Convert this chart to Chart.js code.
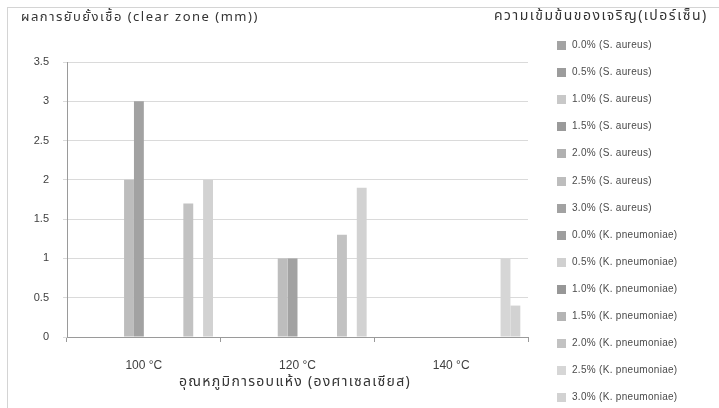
<!DOCTYPE html>
<html>
<head>
<meta charset="utf-8">
<script src="https://cdn.jsdelivr.net/npm/chart.js@4"></script>
<style>
  html, body { margin: 0; padding: 0; background: #fff; }
  #wrap { position: relative; width: 719px; height: 408px; overflow: hidden; font-family: "Liberation Sans", sans-serif; }
  #frame { position: absolute; left: 7px; top: 7px; width: 720px; height: 410px; border-left: 1px solid #d4d4d4; border-top: 1px solid #d4d4d4; }
  canvas { position: absolute; left: 0; top: 0; }
  .thai { position: absolute; white-space: nowrap; color: #333; font-family: "Noto Sans Thai", "Loma", "Garuda", "Tlwg Typo", "Norasi", "DejaVu Sans", sans-serif; }
  #ytitle { left: 21px; top: 7px; font-size: 13px; letter-spacing: 1.5px; }
  #xtitle { left: 150px; top: 371px; font-size: 14px; width: 290px; text-align: center; letter-spacing: 1.3px; }
  #ltitle { left: 494px; top: 5px; font-size: 14px; letter-spacing: 1.5px; }
  #legend { position: absolute; left: 557px; top: 0; }
  .item { position: absolute; left: 0; height: 12px; white-space: nowrap; font-size: 10px; color: #4a4a4a; letter-spacing: 0.3px; }
  .sw { position: absolute; left: 0; top: 1px; width: 9px; height: 9px; }
  .lt { position: absolute; left: 15px; top: -1px; }
</style>
</head>
<body>
<div id="wrap">
  <div id="frame"></div>
  <canvas id="c" width="719" height="408"></canvas>
  <div class="thai" id="ytitle">ผลการยับยั้งเชื้อ (clear zone (mm))</div>
  <div class="thai" id="ltitle">ความเข้มข้นของเจริญ(เปอร์เซ็น)</div>
  <div class="thai" id="xtitle">อุณหภูมิการอบแห้ง (องศาเซลเซียส)</div>
  <div id="legend"></div>
</div>
<script>
// ---------- data ----------
const categories = ["100 °C", "120 °C", "140 °C"];
const seriesLabels = [
  "0.0% (S. aureus)", "0.5% (S. aureus)", "1.0% (S. aureus)", "1.5% (S. aureus)",
  "2.0% (S. aureus)", "2.5% (S. aureus)", "3.0% (S. aureus)",
  "0.0% (K. pneumoniae)", "0.5% (K. pneumoniae)", "1.0% (K. pneumoniae)", "1.5% (K. pneumoniae)",
  "2.0% (K. pneumoniae)", "2.5% (K. pneumoniae)", "3.0% (K. pneumoniae)"
];
const seriesColors = [
  "#a3a3a3", "#9c9c9c", "#c8c8c8", "#9a9a9a", "#b0b0b0", "#bdbdbd", "#a2a2a2",
  "#9e9e9e", "#d0d0d0", "#979797", "#b4b4b4", "#c2c2c2", "#d6d6d6", "#d2d2d2"
];
// one value per series (null = no bar)
const at100 = [null, null, null, null, null, 2.0, 3.0, null, null, null, null, 1.7, null, 2.0];
const at120 = [null, null, null, null, null, 1.0, 1.0, null, null, null, null, 1.3, null, 1.9];
const at140 = [null, null, null, null, null, null, null, null, null, null, null, null, 1.0, 0.4];
const yTicks = [0, 0.5, 1, 1.5, 2, 2.5, 3, 3.5];

const datasets = seriesLabels.map((label, i) => ({
  label,
  data: [at100[i], at120[i], at140[i]],
  backgroundColor: seriesColors[i],
  borderWidth: 0,
  categoryPercentage: 0.9,
  barPercentage: 1.0
}));

// ---------- legend ----------
const legend = document.getElementById("legend");
seriesLabels.forEach((label, i) => {
  const d = document.createElement("div");
  d.className = "item";
  d.style.top = (40 + i * 27.1) + "px";
  d.innerHTML = `<span class="sw" style="background:${seriesColors[i]}"></span><span class="lt">${label}</span>`;
  legend.appendChild(d);
});

// ---------- chart ----------
new Chart(document.getElementById("c").getContext("2d"), {
  type: "bar",
  data: { labels: categories, datasets },
  options: {
    responsive: false,
    animation: false,
    layout: { padding: { left: 0, top: 62, right: 191, bottom: 0 } },
    plugins: { legend: { display: false }, tooltip: { enabled: false } },
    scales: {
      x: {
        afterFit: (s) => { s.height = 71; },
        grid: { drawOnChartArea: false, drawTicks: true, tickLength: 5, color: "#9a9a9a" },
        border: { color: "#9a9a9a" },
        ticks: { padding: 16, color: "#404040", font: { family: "Liberation Sans", size: 12 } }
      },
      y: {
        min: 0, max: 3.5,
        afterFit: (s) => { s.width = 67; },
        afterBuildTicks: (s) => { s.ticks = yTicks.map((v) => ({ value: v })); },
        grid: { color: "#dadada", tickLength: 4 },
        border: { color: "#9a9a9a" },
        ticks: { padding: 14, color: "#404040", font: { family: "Liberation Sans", size: 11 },
                 callback: (v) => String(v) }
      }
    }
  }
});
</script>
</body>
</html>
